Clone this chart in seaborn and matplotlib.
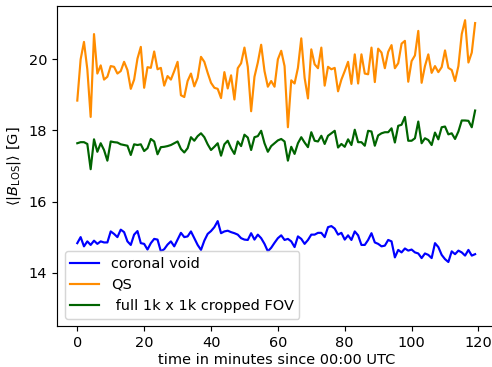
import numpy as np
import pandas as pd
import matplotlib
matplotlib.use("Agg")
import matplotlib.pyplot as plt
import seaborn as sns

minutes = list(range(120))

qs = [18.84, 20.00, 20.49, 19.72, 18.38, 20.71, 19.60, 19.83, 19.43, 19.51,
      19.81, 19.79, 19.60, 19.67, 19.93, 19.70, 19.17, 19.43, 20.02, 20.35,
      19.20, 19.78, 19.76, 20.22, 19.72, 19.76, 19.26, 19.53, 19.43, 19.67,
      19.93, 18.99, 18.94, 19.39, 19.60, 19.24, 19.48, 20.07, 19.93, 19.62,
      19.34, 19.20, 19.17, 18.91, 19.64, 19.18, 19.55, 18.87, 19.75, 19.89,
      20.33, 19.79, 18.54, 19.51, 19.91, 20.41, 19.67, 19.23, 19.39, 19.23,
      20.00, 20.24, 19.81, 18.09, 19.41, 19.32, 19.76, 20.59, 19.48, 18.90,
      20.28, 19.86, 19.75, 20.33, 19.26, 19.79, 19.72, 19.76, 19.10, 19.43,
      19.67, 19.93, 19.31, 20.14, 19.32, 20.14, 19.60, 19.58, 20.33, 19.36,
      20.30, 20.19, 19.75, 20.21, 20.40, 19.75, 19.89, 20.44, 20.52, 19.37,
      19.95, 20.11, 20.80, 19.34, 19.81, 20.14, 19.62, 19.81, 19.64, 19.78,
      20.25, 19.76, 19.70, 19.39, 19.81, 20.71, 21.10, 19.91, 20.19, 21.02]

full_fov = [17.64, 17.67, 17.67, 17.62, 16.91, 17.75, 17.40, 17.64, 17.45, 17.15,
            17.69, 17.67, 17.66, 17.61, 17.59, 17.57, 17.31, 17.61, 17.59, 17.61,
            17.42, 17.50, 17.76, 17.69, 17.33, 17.53, 17.54, 17.56, 17.59, 17.64,
            17.69, 17.48, 17.38, 17.50, 17.81, 17.71, 17.84, 17.92, 17.81, 17.61,
            17.45, 17.54, 17.64, 17.29, 17.61, 17.71, 17.50, 17.34, 17.69, 17.56,
            17.88, 17.80, 17.45, 17.81, 17.84, 17.99, 17.64, 17.40, 17.56, 17.64,
            17.72, 17.76, 17.69, 17.15, 17.54, 17.34, 17.64, 17.81, 17.66, 17.53,
            17.95, 17.71, 17.69, 17.85, 17.62, 17.85, 17.92, 17.99, 17.52, 17.62,
            17.54, 17.75, 17.59, 18.02, 17.67, 17.67, 17.57, 17.99, 17.97, 17.57,
            17.86, 17.92, 17.95, 17.95, 18.06, 17.66, 18.13, 18.16, 18.38, 17.71,
            17.71, 17.78, 18.25, 17.64, 17.78, 17.73, 17.59, 17.94, 17.75, 18.09,
            18.11, 17.89, 17.92, 17.76, 17.97, 18.28, 18.28, 18.27, 18.09, 18.56]

coronal_void = [14.83, 15.00, 14.74, 14.88, 14.78, 14.90, 14.81, 14.88, 14.85, 14.85,
                15.16, 15.09, 15.00, 15.21, 15.14, 14.88, 14.78, 15.07, 15.17, 14.83,
                14.81, 14.65, 14.83, 14.95, 14.93, 14.60, 14.66, 14.79, 14.88, 14.74,
                14.93, 15.12, 15.00, 15.02, 15.16, 14.97, 14.78, 14.64, 14.90, 15.09,
                15.17, 15.28, 15.45, 15.11, 15.16, 15.18, 15.14, 15.11, 15.07, 14.97,
                14.93, 14.92, 15.11, 14.93, 15.07, 14.97, 14.81, 14.60, 14.70, 14.84,
                14.97, 15.05, 14.92, 14.95, 14.88, 14.72, 15.02, 14.95, 14.81, 14.92,
                15.07, 15.07, 15.12, 15.12, 15.00, 15.28, 15.31, 15.24, 15.07, 15.12,
                14.93, 15.05, 14.92, 15.16, 15.05, 14.78, 14.78, 14.92, 15.11, 14.85,
                14.81, 14.74, 14.76, 14.92, 14.88, 14.43, 14.64, 14.57, 14.68, 14.62,
                14.65, 14.57, 14.54, 14.41, 14.54, 14.50, 14.41, 14.83, 14.72, 14.50,
                14.38, 14.30, 14.60, 14.52, 14.62, 14.57, 14.48, 14.64, 14.48, 14.52]

labels = ["coronal void", "QS", " full 1k x 1k cropped FOV"]
colors = ["blue", "darkorange", "darkgreen"]
x_ticks = [0, 20, 40, 60, 80, 100, 120]
y_ticks = [14, 16, 18, 20]

df = pd.concat([
    pd.DataFrame({"t": minutes, "B": coronal_void, "region": labels[0]}),
    pd.DataFrame({"t": minutes, "B": qs, "region": labels[1]}),
    pd.DataFrame({"t": minutes, "B": full_fov, "region": labels[2]}),
], ignore_index=True)

W, H = 493, 367
DPI = 104
fig = plt.figure(figsize=(W / DPI, H / DPI), dpi=DPI)
ax = fig.add_axes([57.4 / W, (H - 326) / H, (495 - 57.4) / W, (326 - 6) / H])

sns.lineplot(data=df, x="t", y="B", hue="region", hue_order=labels,
             palette=dict(zip(labels, colors)), linewidth=1.5, ax=ax)

ax.set_xlim(-5.95, 124.95)
ax.set_ylim(12.5, 21.5)
ax.set_xticks(x_ticks)
ax.set_yticks(y_ticks)
ax.tick_params(labelsize=10)
ax.set_xlabel("time in minutes since 00:00 UTC", fontsize=10, labelpad=2)
ax.set_ylabel(r"$\langle|B_{\rm LOS}|\rangle$ [G]", fontsize=10)
ax.legend(loc="lower left", fontsize=10, title=None)

fig.savefig("out.png", dpi=DPI)
